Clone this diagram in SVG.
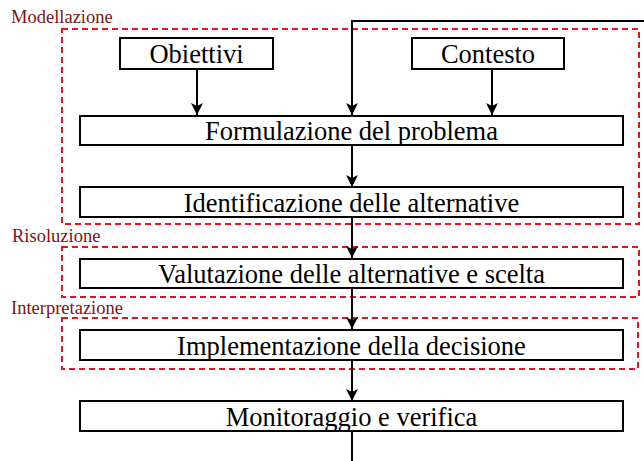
<svg xmlns="http://www.w3.org/2000/svg" width="644" height="461" viewBox="0 0 644 461">
<style>
.box{fill:#fff;stroke:#000;stroke-width:2}
.t{font-family:"Liberation Serif","Times New Roman",serif;font-size:26.5px;fill:#000;text-anchor:middle}
.lbl{font-family:"Liberation Serif","Times New Roman",serif;font-size:18.5px;fill:#7a1414}
.grp{fill:none;stroke:#e8141c;stroke-width:2;stroke-dasharray:6 4}
.c{fill:none;stroke:#000;stroke-width:2}
</style>
<defs>
<marker id="ah" viewBox="0 0 12 12" refX="12" refY="6" markerWidth="12" markerHeight="12" markerUnits="userSpaceOnUse" orient="auto">
<path d="M0,0 L12,6 L0,12 L3,6 Z" fill="#000"/>
</marker>
</defs>
<rect width="644" height="461" fill="#fff"/>
<g id="groups">
<rect class="grp" x="62" y="29" width="577" height="195"/>
<rect class="grp" x="62" y="247" width="577" height="50"/>
<rect class="grp" x="62" y="318" width="576" height="51"/>
<text class="lbl" x="11" y="23">Modellazione</text>
<text class="lbl" x="12" y="242">Risoluzione</text>
<text class="lbl" x="11" y="314">Interpretazione</text>
</g>
<g id="connectors">
<path class="c" d="M644,21 H352 V115" marker-end="url(#ah)"/>
<path class="c" d="M197,69 V115" marker-end="url(#ah)"/>
<path class="c" d="M492,69 V115" marker-end="url(#ah)"/>
<path class="c" d="M352,145 V187" marker-end="url(#ah)"/>
<path class="c" d="M352,217 V258" marker-end="url(#ah)"/>
<path class="c" d="M352,288 V329" marker-end="url(#ah)"/>
<path class="c" d="M352,360 V401" marker-end="url(#ah)"/>
<path class="c" d="M352,431 V461"/>
</g>
<g id="obiettivi"><rect class="box" x="120" y="38" width="153" height="31"/><text class="t" x="196.5" y="63">Obiettivi</text></g>
<g id="contesto"><rect class="box" x="412" y="38" width="152" height="31"/><text class="t" x="488" y="63">Contesto</text></g>
<g id="formulazione"><rect class="box" x="80" y="116" width="543" height="29"/><text class="t" x="351.5" y="140">Formulazione del problema</text></g>
<g id="identificazione"><rect class="box" x="80" y="187" width="543" height="30"/><text class="t" x="351.5" y="212">Identificazione delle alternative</text></g>
<g id="valutazione"><rect class="box" x="80" y="259" width="543" height="29"/><text class="t" x="351.5" y="283">Valutazione delle alternative e scelta</text></g>
<g id="implementazione"><rect class="box" x="80" y="330" width="543" height="30"/><text class="t" x="351.5" y="355">Implementazione della decisione</text></g>
<g id="monitoraggio"><rect class="box" x="80" y="401" width="543" height="30"/><text class="t" x="351.5" y="426">Monitoraggio e verifica</text></g>
</svg>
